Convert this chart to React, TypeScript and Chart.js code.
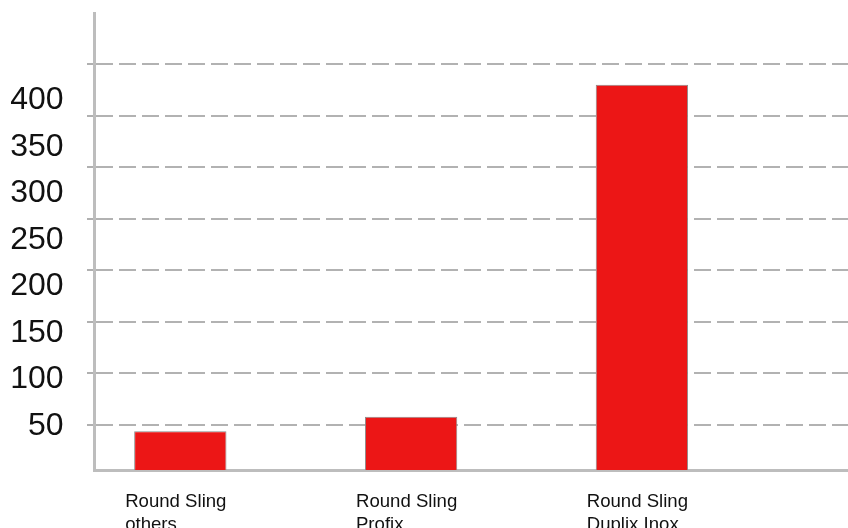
import React, { useEffect, useRef } from 'react';
import { Chart, registerables } from 'chart.js';

Chart.register(...registerables);

// Categories (two-line labels)
const categories: string[][] = [
  ['Round Sling', 'others'],
  ['Round Sling', 'Profix'],
  ['Round Sling', 'Duplix Inox'],
];
const categoryIndex = [0, 1, 2];

// Series values
const values = [44, 58, 380];

// Gridline values (dashed lines) and y tick labels
const gridValues = [50, 100, 150, 200, 250, 300, 350, 400];
const yTickLabels = [50, 100, 150, 200, 250, 300, 350, 400];

const FONT = '"Liberation Sans", Arial, Helvetica, sans-serif';

export default function App() {
  const ref = useRef<HTMLCanvasElement>(null);

  useEffect(() => {
    document.body.style.margin = '0';
    const canvas = ref.current;
    if (!canvas) return;
    const chart = new Chart(canvas, {
      type: 'bar',
      data: {
        datasets: [
          {
            data: values.map((v, i) => ({ x: categoryIndex[i], y: v })),
            backgroundColor: '#ec1616',
            borderColor: '#8c8c8c',
            borderWidth: 1,
            barPercentage: 0.4,
            categoryPercentage: 1,
            xAxisID: 'x',
            yAxisID: 'y',
          },
        ],
      },
      options: {
        animation: false,
        responsive: false,
        maintainAspectRatio: false,
        layout: { padding: { top: 13, left: 0, right: 0, bottom: 0 } },
        plugins: {
          legend: { display: false },
          tooltip: { enabled: false },
        },
        scales: {
          x: {
            type: 'linear',
            display: false,
            offset: false,
            min: -0.374,
            max: 2.893,
            afterBuildTicks: (axis: any) => {
              axis.ticks = categoryIndex.map((v) => ({ value: v }));
            },
          },
          xl: {
            type: 'linear',
            position: 'bottom',
            offset: false,
            min: -0.135,
            max: 3.132,
            grid: { display: false, drawTicks: false },
            border: { display: true, color: '#bdbdbd', width: 3 },
            afterBuildTicks: (axis: any) => {
              axis.ticks = categoryIndex.map((v) => ({ value: v }));
            },
            afterFit: (axis: any) => {
              axis.height = 58;
              axis.paddingLeft = 0;
              axis.paddingRight = 0;
            },
            ticks: {
              align: 'start',
              maxRotation: 0,
              minRotation: 0,
              autoSkip: false,
              padding: 20.2,
              color: '#111',
              font: { family: FONT, size: 18.6, lineHeight: '23px' },
              callback: (v: any) => categories[v as number] ?? '',
            },
          },
          y: {
            type: 'linear',
            position: 'left',
            weight: 0,
            beginAtZero: false,
            min: 6.37,
            max: 449.5,
            afterBuildTicks: (axis: any) => {
              axis.ticks = gridValues.map((v) => ({ value: v }));
            },
            afterFit: (axis: any) => {
              axis.width = 7;
              axis.paddingTop = 0;
              axis.paddingBottom = 0;
            },
            grid: {
              display: true,
              color: '#b2b2b2',
              lineWidth: 2,
              drawTicks: true,
              tickLength: 7,
              tickColor: '#b0b0b0',
              tickWidth: 2,
            },
            border: { display: true, color: '#bdbdbd', width: 3, dash: [17, 6] },
            ticks: { display: false },
          },
          yl: {
            type: 'linear',
            position: 'left',
            weight: 1,
            beginAtZero: false,
            min: 2.83,
            max: 493.66,
            afterBuildTicks: (axis: any) => {
              axis.ticks = yTickLabels.map((v) => ({ value: v }));
            },
            afterFit: (axis: any) => {
              axis.width = 87;
              axis.paddingTop = 0;
              axis.paddingBottom = 0;
            },
            grid: { display: false, drawTicks: false },
            border: { display: false },
            ticks: {
              autoSkip: false,
              padding: 23.4,
              color: '#111',
              font: { family: FONT, size: 32 },
              callback: (v: any) => String(v),
            },
          },
        },
      } as any,
    });
    return () => chart.destroy();
  }, []);

  return (
    <div style={{ width: 848, height: 528 }}>
      <canvas ref={ref} width={848} height={528} style={{ display: 'block' }} />
    </div>
  );
}
